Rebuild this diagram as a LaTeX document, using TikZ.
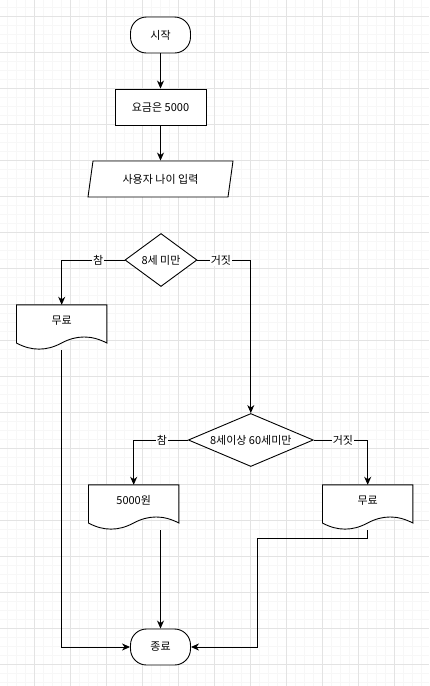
\documentclass[tikz,border=0pt]{standalone}
\usepackage{fontspec}
\setmainfont{Noto Sans CJK KR}
\usetikzlibrary{shapes.geometric,arrows.meta,calc}

% outline of a document shape (90 x 45), drawn over its node
\newcommand{\docshape}[1]{%
  \draw[outline] (#1.north west) -- (#1.north east)
    -- ([shift={(0,38.25)}]#1.north east)
    .. controls ([shift={(75,30.15)}]#1.north west) and ([shift={(60,30.15)}]#1.north west) .. ([shift={(45,38.25)}]#1.north west)
    .. controls ([shift={(30,46.35)}]#1.north west) and ([shift={(15,46.35)}]#1.north west) .. ([shift={(0,38.25)}]#1.north west)
    -- cycle;}

\begin{document}
\begin{tikzpicture}[x=1pt, y=-1pt,
  every node/.style={font=\fontsize{11}{13}\selectfont, text=black},
  outline/.style={draw=black, fill=white, line width=0.9pt},
  terminal/.style={outline, rectangle, rounded corners=16pt, minimum width=60pt, minimum height=36pt},
  process/.style={outline, rectangle, minimum width=91pt, minimum height=36pt},
  io/.style={outline, trapezium, trapezium left angle=63.4, trapezium right angle=116.6,
    trapezium stretches body, minimum width=145pt, minimum height=36pt, inner sep=0pt},
  decision/.style={outline, diamond, inner sep=0pt},
  docbox/.style={rectangle, minimum width=90pt, minimum height=45pt, inner sep=0pt, text height=8pt, text depth=15pt},
  arrow/.style={draw=black, line width=0.9pt, -{Stealth[length=8pt, width=7pt, inset=2.5pt]}},
  link/.style={draw=black, line width=0.9pt},
  branch/.style={fill=white, inner sep=1pt},
  minorgrid/.style={draw=black!3, line width=0.8pt},
  majorgrid/.style={draw=black!11, line width=0.8pt}]

  \useasboundingbox (0,0) rectangle (429,686);

  % 1. background grid
  \fill[white] (0,0) rectangle (429,686);
  \foreach \gx in {0,...,47} \draw[minorgrid] ({7.3+9*\gx},0) -- ++(0,686);
  \foreach \gy in {0,...,75} \draw[minorgrid] (0,{7.3+9*\gy}) -- ++(429,0);
  \foreach \gx in {0,...,11} \draw[majorgrid] ({34.3+36*\gx},0) -- ++(0,686);
  \foreach \gy in {0,...,18} \draw[majorgrid] (0,{16.3+36*\gy}) -- ++(429,0);

  % 2. shapes
  \node[terminal] (start) at (160.5,35) {시작};
  \node[process]  (fee)   at (160.5,107) {요금은 5000};
  \node[io]       (input) at (160.5,179) {사용자 나이 입력};
  \node[decision, aspect=1.36, minimum width=72pt, minimum height=53pt]  (under8) at (161,260) {8세 미만};
  \node[decision, aspect=2.36, minimum width=125pt, minimum height=53pt] (adult)  at (250.8,440) {8세이상 60세미만};

  \node[docbox] (free1) at (61.7,327.5) {};
  \node[docbox] (pay)   at (133.7,507.5) {};
  \node[docbox] (free2) at (367.7,507.5) {};
  \docshape{free1} \docshape{pay} \docshape{free2}
  \node[docbox] at (free1) {무료};
  \node[docbox] at (pay)   {5000원};
  \node[docbox] at (free2) {무료};

  \node[terminal] (stop) at (160.5,647) {종료};
  \coordinate (bend) at (257,538.3);

  % 3. connectors
  \draw[arrow] (start) -- (fee);
  \draw[arrow] (fee) -- (input);
  \draw[arrow] (under8.west) -| node[branch, pos=0.21] {참} (free1.north);
  \draw[arrow] (under8.east) -| node[branch, pos=0.22] {거짓} (adult.north);
  \draw[arrow] (adult.west) -| node[branch, pos=0.24] {참} (pay.north);
  \draw[arrow] (adult.east) -| node[branch, pos=0.27] {거짓} (free2.north);

  \draw[arrow] (free1.south) |- (stop.west);
  \draw[arrow] (pay.south -| stop.north) -- (stop.north);
  \draw[link] (free2.south) |- (bend);
  \draw[arrow] (bend) |- (stop.east);
\end{tikzpicture}
\end{document}
